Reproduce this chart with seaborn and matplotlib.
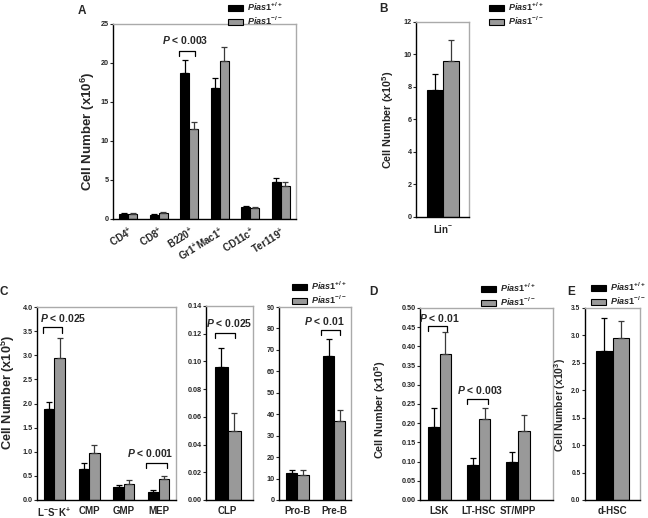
import numpy as np
import pandas as pd
import matplotlib
matplotlib.use("Agg")
import matplotlib.pyplot as plt
import seaborn as sns
from matplotlib.patches import Patch
from matplotlib.ticker import MultipleLocator, FormatStrFormatter

genotypes = ["Pias1+/+", "Pias1-/-"]

# A: peripheral populations (x10^6)
a_cells = ["CD4$^{+}$", "CD8$^{+}$", "B220$^{+}$", "Gr1$^{+}$Mac1$^{+}$", "CD11c$^{+}$", "Ter119$^{+}$"]
a_wt = [0.7, 0.5, 18.7, 16.8, 1.6, 4.7]
a_wt_err = [0.1, 0.1, 1.7, 1.3, 0.1, 0.5]
a_ko = [0.7, 0.8, 11.6, 20.3, 1.4, 4.2]
a_ko_err = [0.1, 0.1, 0.8, 1.7, 0.1, 0.5]

# B: Lin- (x10^5)
b_cells = ["Lin$^{-}$"]
b_wt = [7.8]
b_wt_err = [1.0]
b_ko = [9.6]
b_ko_err = [1.3]

# C: progenitors (x10^5)
c_cells = ["L$^{-}$S$^{-}$K$^{+}$", "CMP", "GMP", "MEP"]
c_wt = [1.89, 0.65, 0.26, 0.17]
c_wt_err = [0.14, 0.12, 0.05, 0.04]
c_ko = [2.94, 0.97, 0.33, 0.44]
c_ko_err = [0.41, 0.17, 0.08, 0.06]

clp_cells = ["CLP"]
clp_wt = [0.096]
clp_wt_err = [0.014]
clp_ko = [0.050]
clp_ko_err = [0.0125]

pb_cells = ["Pro-B", "Pre-B"]
pb_wt = [12.5, 67.0]
pb_wt_err = [1.7, 8.3]
pb_ko = [11.5, 37.0]
pb_ko_err = [2.7, 5.0]

# D: stem cells (x10^5)
d_cells = ["LSK", "LT-HSC", "ST/MPP"]
d_wt = [0.19, 0.09, 0.10]
d_wt_err = [0.05, 0.02, 0.025]
d_ko = [0.38, 0.21, 0.18]
d_ko_err = [0.057, 0.03, 0.042]

# E: d-HSC (x10^3)
e_cells = ["d-HSC"]
e_wt = [2.71]
e_wt_err = [0.61]
e_ko = [2.95]
e_ko_err = [0.32]

BLACK = "#000000"
GREY = "#999999"
W, H = 648, 518

sns.set_style("ticks")
plt.rcParams["font.family"] = ["Liberation Sans", "DejaVu Sans"]
plt.rcParams["font.weight"] = "bold"
plt.rcParams["axes.labelweight"] = "bold"
plt.rcParams["mathtext.fontset"] = "custom"
plt.rcParams["mathtext.rm"] = "Liberation Sans:bold"
plt.rcParams["mathtext.bf"] = "Liberation Sans:bold"
plt.rcParams["mathtext.it"] = "Liberation Sans:italic:bold"


def rect(x0, y0, x1, y1):
    return [x0 / W, 1 - y1 / H, (x1 - x0) / W, (y1 - y0) / H]


def draw_panel(ax, cells, wt, ko, wt_err, ko_err, ymax, step, fmt, xlim, tick_size=5.2):
    df = pd.DataFrame({
        "cell": cells + cells,
        "genotype": [genotypes[0]] * len(cells) + [genotypes[1]] * len(cells),
        "count": wt + ko,
    })
    sns.barplot(data=df, x="cell", y="count", hue="genotype", order=cells,
                hue_order=genotypes, palette=[BLACK, GREY], errorbar=None,
                width=0.6, edgecolor="black", linewidth=0.8, legend=False, ax=ax)
    for cont, errs, col in zip(ax.containers, [wt_err, ko_err], ["black", "#3a3a3a"]):
        xs = [b.get_x() + b.get_width() / 2 for b in cont]
        ys = [b.get_height() for b in cont]
        ax.errorbar(xs, ys, yerr=[np.zeros(len(errs)), errs], fmt="none",
                    ecolor=col, elinewidth=0.9, capsize=2.2, capthick=0.9, zorder=3)
    ax.set_ylim(0, ymax)
    ax.set_xlim(*xlim)
    ax.yaxis.set_major_locator(MultipleLocator(step))
    ax.yaxis.set_major_formatter(FormatStrFormatter(fmt))
    ax.set_xlabel("")
    ax.set_ylabel("")
    for side in ["top", "right"]:
        ax.spines[side].set_color("#aaaaaa")
        ax.spines[side].set_linewidth(1.0)
    for side in ["left", "bottom"]:
        ax.spines[side].set_color("black")
        ax.spines[side].set_linewidth(1.0)
    ax.tick_params(axis="y", direction="out", length=2.2, width=0.8, labelsize=tick_size, pad=1.0)
    ax.tick_params(axis="x", length=0, labelsize=7, pad=4)


def ylabel(ax, exp, size, x, y):
    ax.set_ylabel("Cell Number (x10$^{%d}$)" % exp, fontsize=size)
    ax.yaxis.set_label_coords(x, y)


def bracket(ax, x0, x1, y, tip, label, tx, ty):
    ax.plot([x0, x0, x1, x1], [tip, y, y, tip], color="black", lw=0.9, clip_on=False)
    ax.text(tx, ty, r"$\mathit{P}$ < " + label, ha="center", va="center", fontsize=7.5)


def legend(x, y):
    handles = [Patch(facecolor=BLACK, edgecolor="black", lw=0.8, label=r"$\mathit{Pias1}^{+/+}$"),
               Patch(facecolor=GREY, edgecolor="black", lw=0.8, label=r"$\mathit{Pias1}^{-/-}$")]
    fig.legend(handles=handles, loc="upper left", bbox_to_anchor=(x / W, 1 - y / H),
               frameon=False, fontsize=6.5, handlelength=1.7, handleheight=0.65,
               labelspacing=0.12, handletextpad=0.45, borderpad=0, borderaxespad=0)


fig = plt.figure(figsize=(6.48, 5.18), dpi=100)

ax_a = fig.add_axes(rect(113, 24, 296, 219))
draw_panel(ax_a, a_cells, a_wt, a_ko, a_wt_err, a_ko_err, 25, 5, "%d", (-0.5, 5.5))
ax_a.set_xticks(range(len(a_cells)))
ax_a.set_xticklabels(a_cells, rotation=32, ha="right", rotation_mode="anchor")
ylabel(ax_a, 6, 9.5, -0.085, 0.45)
bracket(ax_a, 1.67, 2.2, 21.6, 20.9, "0.003", 1.87, 22.9)

ax_b = fig.add_axes(rect(416, 22, 469, 217))
draw_panel(ax_b, b_cells, b_wt, b_ko, b_wt_err, b_ko_err, 12, 2, "%d", (-0.5, 0.48))
ylabel(ax_b, 5, 7.8, -0.37, 0.5)

ax_c = fig.add_axes(rect(37, 307, 176, 500))
draw_panel(ax_c, c_cells, c_wt, c_ko, c_wt_err, c_ko_err, 4.0, 0.5, "%.1f", (-0.5, 3.5))
ylabel(ax_c, 5, 9.2, -0.145, 0.56)
bracket(ax_c, -0.32, 0.23, 3.59, 3.46, "0.025", 0.25, 3.78)
bracket(ax_c, 2.65, 3.23, 0.77, 0.66, "0.001", 2.77, 0.97)

ax_clp = fig.add_axes(rect(206, 306, 253, 500))
draw_panel(ax_clp, clp_cells, clp_wt, clp_ko, clp_wt_err, clp_ko_err, 0.14, 0.02, "%.2f", (-0.5, 0.58))
bracket(ax_clp, -0.3, 0.16, 0.1205, 0.117, "0.025", 0.035, 0.1277)

ax_pb = fig.add_axes(rect(279, 307, 351, 500))
draw_panel(ax_pb, pb_cells, pb_wt, pb_ko, pb_wt_err, pb_ko_err, 90, 10, "%d", (-0.5, 1.45))
bracket(ax_pb, 0.65, 1.16, 79.3, 77.0, "0.01", 0.72, 83.7)

ax_d = fig.add_axes(rect(420, 308, 553, 500))
draw_panel(ax_d, d_cells, d_wt, d_ko, d_wt_err, d_ko_err, 0.5, 0.05, "%.2f", (-0.5, 2.9))
ylabel(ax_d, 5, 7.8, -0.237, 0.47)
bracket(ax_d, -0.3, 0.18, 0.453, 0.44, "0.01", 0.0, 0.474)
bracket(ax_d, 0.7, 1.23, 0.263, 0.25, "0.003", 1.05, 0.287)

ax_e = fig.add_axes(rect(585, 308, 640, 500))
draw_panel(ax_e, e_cells, e_wt, e_ko, e_wt_err, e_ko_err, 3.5, 0.5, "%.1f", (-0.5, 0.5), tick_size=4.8)
ylabel(ax_e, 3, 7.5, -0.31, 0.495)

legend(228, 1)
legend(489, 1)
legend(292, 280)
legend(481, 282)
legend(591, 281)

for letter, (x, y) in zip("ABCDE", [(82, 11), (383, 9), (4, 292), (373, 292), (571, 292)]):
    fig.text(x / W, 1 - y / H, letter, fontsize=8.5, fontweight="bold", ha="center", va="center")

fig.savefig("out.png", dpi=100)
